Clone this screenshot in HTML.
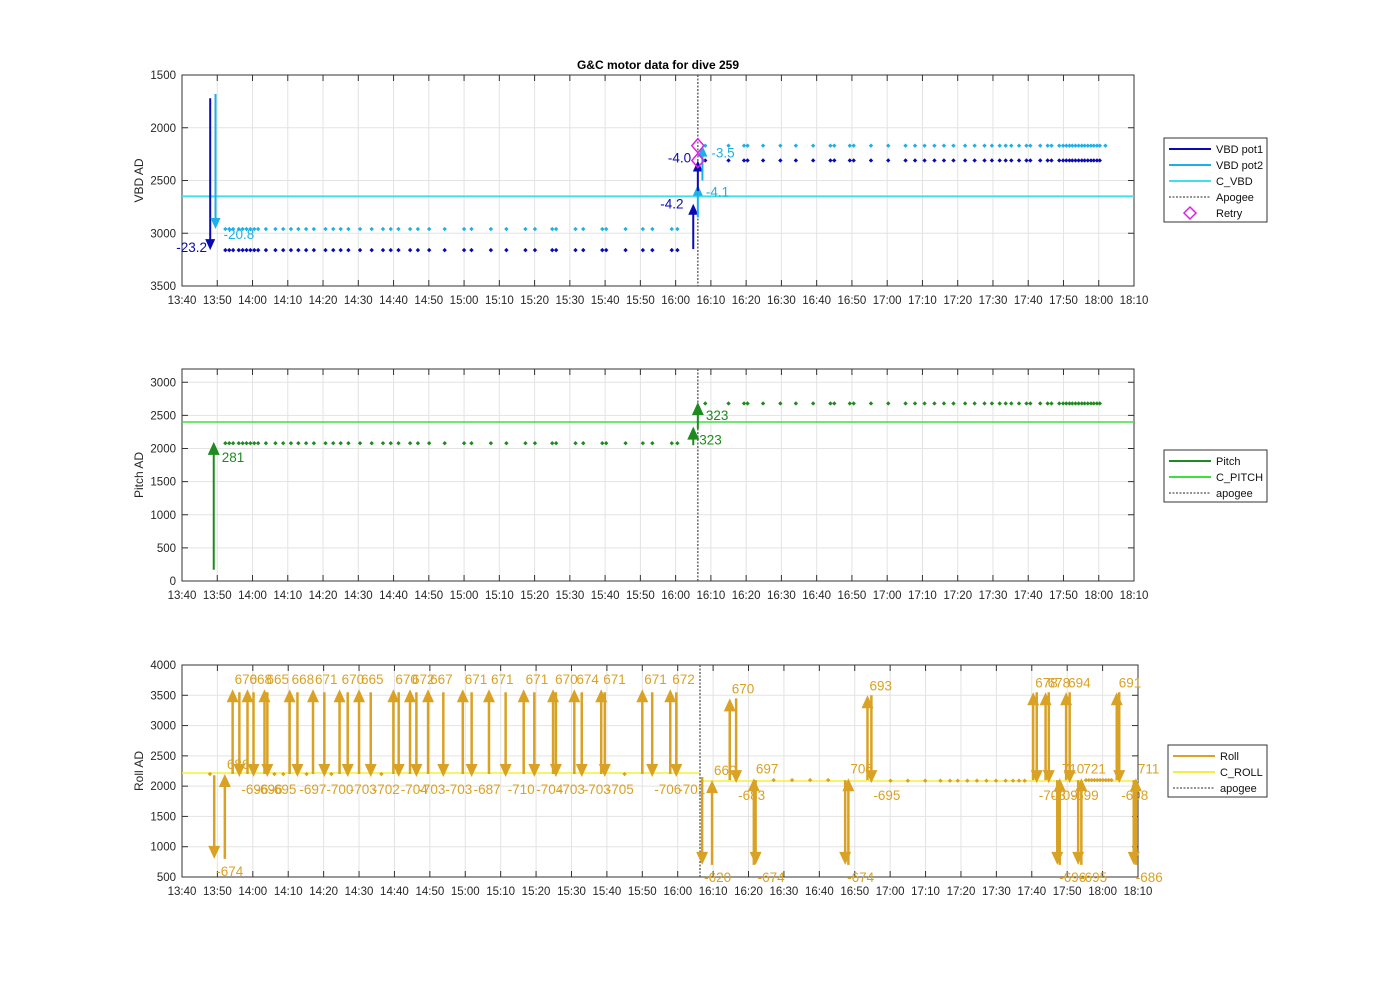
<!DOCTYPE html>
<html><head><meta charset="utf-8"><style>
body{margin:0;background:#fff}
svg{font-family:"Liberation Sans",sans-serif}
</style></head><body>
<svg id="c" width="1400" height="986" viewBox="0 0 1400 986" xmlns="http://www.w3.org/2000/svg">
<rect width="1400" height="986" fill="#fff"/>
<text x="658" y="69" text-anchor="middle" font-size="12" font-weight="bold">G&amp;C motor data for dive 259</text>
</svg>
<script>
// ---- data (minutes since 13:40) ----
const xTickLabels=["13:40","13:50","14:00","14:10","14:20","14:30","14:40","14:50","15:00","15:10","15:20","15:30","15:40","15:50","16:00","16:10","16:20","16:30","16:40","16:50","17:00","17:10","17:20","17:30","17:40","17:50","18:00","18:10"];
const apogeeT=146.3;
const tBefore=[12.3,13.4,14.5,16.1,17.2,18.3,19.4,20.5,21.6,23.8,26.5,28.7,30.9,33.0,35.2,37.4,40.7,42.9,45.0,47.2,50.5,53.8,57.0,59.2,61.4,64.7,66.9,70.1,74.5,80.0,82.1,87.6,92.0,97.4,100.1,105.0,106.1,111.6,113.8,119.2,120.3,125.8,130.7,133.4,138.9,140.5];
const tAfter=[148.4,155,159.4,160.4,164.8,169.7,174.1,179,183.9,185,189.4,190.5,195.4,200.3,205.2,207.9,210.6,213.4,216.1,218.8,222.1,224.8,227.6,229.7,231.9,233.6,235.2,237.4,239.5,240.6,243.4,245.5,246.6,248.8,249.9,250.8,251.7,252.5,253.4,254.3,255.2,256,256.9,257.8,258.6,259.5,260.3];
const pot1Before=3160, pot1After=2310, pot2Before=2960, pot2After=2170;
const cVbd=2650;
const vbdArrowT=[8.0,9.5,145.0,146.3,146.3,147.6];
const vbdArrowFrom=[1720,1680,3150,2850,2600,2500];
const vbdArrowTo=[3160,2960,2720,2540,2310,2170];
const vbdArrowLbl=["-23.2","-20.8","-4.2","-4.1","-4.0","-3.5"];
const vbdArrowSeries=[1,2,1,2,1,2];
const vbdLblDx=[-34,8,-33,8,-30,9];
const vbdLblDy=[2,10,5,12,2,12];
const retryT=[146.3,146.3], retryV=[2170,2310];
const pitchBefore=2080, pitchAfter=2680, cPitch=2400;
const pitchArrowT=[9.0,145.0,146.3];
const pitchArrowFrom=[170,2050,2300];
const pitchArrowTo=[2100,2330,2700];
const pitchArrowLbl=["281","323","323"];
const rollT=[9.1,12.1,14.3,16.2,18.5,20.2,23.3,24.1,30.4,32.6,37,40.2,44.5,46.8,50,53.3,59.7,61.2,64.4,66.2,69.5,73.8,79.3,81.8,86.7,91.4,96.5,99.5,104.8,105.6,110.8,112.9,118.4,119.4,130,132.8,137.9,139.6,146.9,149.7,154.7,156.5,161.5,162,187.3,188.2,193.6,194.7,240.4,241.4,243.9,244.8,247.2,247.9,249.7,250.7,253.1,254,264,264.7,268.8,269.4];
const rollFrom=[2180,800,2200,3550,2200,3550,2200,3550,2200,3550,2200,3550,2200,3550,2200,3550,2200,3550,2200,3550,2200,3550,2200,3550,2200,3550,2200,3550,2200,3550,2200,3550,2200,3550,2200,3550,2200,3550,2150,700,2100,3450,700,2100,2100,700,2100,3500,2100,3550,2100,3550,2100,700,2100,3550,2100,700,2100,3550,2100,700];
const rollTo=[800,2200,3600,2150,3600,2150,3600,2150,3600,2150,3600,2150,3600,2150,3600,2150,3600,2150,3600,2150,3600,2150,3600,2150,3600,2150,3600,2150,3600,2150,3600,2150,3600,2150,3600,2150,3600,2150,700,2100,3450,2050,2130,700,700,2130,3500,2050,3550,2050,3550,2050,700,2130,3550,2050,700,2130,3550,2050,700,2130];
const rollLbl=["-674","686","670","-696","668","-696","665","-695","668","-697","671","-700","670","-703","665","-702","670","-704","672","-703","667","-703","671","-687","671","-710","671","-704","670","-703","674","-703","671","-705","671","-706","672","-701","-620","660","670","-683","697","-674","-674","706","693","-695","678","-703","678","-709","-696","710","694","-699","-695","721","691","-698","-686","711"];
const rollDotT=[7.9,26.1,28.6,35.2,42.2,56.3,125,167.1,172.3,177.4,182.5,200.1,205,209.9,214.2,216.9,219.1,221.8,224.5,227.2,229.9,232.6,234.7,236.4,238,255.3,256.1,256.9,257.7,258.5,259.3,260.1,260.9,261.7,262.5];
const rollDotV=[2200,2200,2200,2200,2200,2200,2200,2100,2100,2100,2100,2090,2090,2090,2090,2090,2090,2090,2090,2090,2090,2090,2090,2090,2090,2100,2100,2100,2100,2100,2100,2100,2100,2100,2100];
const cRollBefore=2217, cRollAfter=2085;

const NS="http://www.w3.org/2000/svg", svg=document.getElementById('c');
function mk(tag,attrs,parent){const e=document.createElementNS(NS,tag);for(const k in attrs)e.setAttribute(k,attrs[k]);(parent||svg).appendChild(e);return e;}
const C={p1:"#0a0ab4",p2:"#1cb0e8",cv:"#3fe0e8",pi:"#1f8a1f",cp:"#3ee03e",ro:"#d9a224",cr:"#f2f03a",mg:"#e020e0"};

function panel(name,L,R,T,B,vTop,vBot,yticks,ylabel){
  const g=mk('g',{});
  
  
  const X=t=>L+(R-L)*t/270, Y=v=>T+(B-T)*(v-vTop)/(vBot-vTop);
  xTickLabels.forEach((s,i)=>{const x=X(i*10);
    mk('line',{x1:x,x2:x,y1:T,y2:B,stroke:"#e3e3e3","stroke-width":1},g);
    mk('line',{x1:x,x2:x,y1:B,y2:B-6,stroke:"#333"},g);mk('line',{x1:x,x2:x,y1:T,y2:T+6,stroke:"#333"},g);
    const tx=mk('text',{x:x,y:B+18,"text-anchor":"middle","font-size":11.5,fill:"#262626"},g);tx.textContent=s;
    
    });
  yticks.forEach(v=>{const y=Y(v);
    mk('line',{x1:L,x2:R,y1:y,y2:y,stroke:"#e3e3e3"},g);
    mk('line',{x1:L,x2:L+6,y1:y,y2:y,stroke:"#333"},g);mk('line',{x1:R,x2:R-6,y1:y,y2:y,stroke:"#333"},g);
    const tx=mk('text',{x:L-6,y:y+4,"text-anchor":"end","font-size":11.5,fill:"#262626"},g);tx.textContent=v;
    
    });
  mk('rect',{x:L,y:T,width:R-L,height:B-T,fill:"none",stroke:"#333","stroke-width":1},g);
  const yl=mk('text',{x:0,y:0,transform:`translate(143,${(T+B)/2}) rotate(-90)`,"text-anchor":"middle","font-size":12,fill:"#262626"},g);yl.textContent=ylabel;
  
  
  return {g,X,Y,T,B};
}
function dot(p,t,v,col){const d=mk('path',{d:`M${p.X(t)-2.2},${p.Y(v)}L${p.X(t)},${p.Y(v)-2.2}L${p.X(t)+2.2},${p.Y(v)}L${p.X(t)},${p.Y(v)+2.2}Z`,fill:col},p.g);
  
  }
function arrow(p,t,v0,v1,col,w,lbl,dx,dy,fs,hw){
  hw=hw||5;
  const x=p.X(t),y0=p.Y(v0),y1=p.Y(v1),dir=y1<y0?-1:1,h=hw*2+1;
  const a=mk('g',{},p.g);
  
  
  mk('line',{x1:x,x2:x,y1:y0,y2:y1-dir*h*0.6,stroke:col,"stroke-width":w},a);
  mk('path',{d:`M${x-hw},${y1-dir*h}L${x+hw},${y1-dir*h}L${x},${y1}Z`,fill:col},a);
  if(lbl){const tx=mk('text',{x:x+dx,y:y1+dy,"font-size":fs||13,fill:col},a);tx.textContent=lbl;}
}
function apogee(p){const x=p.X(apogeeT);const l=mk('line',{x1:x,x2:x,y1:p.T,y2:p.B,stroke:"#555","stroke-width":1.3,"stroke-dasharray":"2,1.5"},p.g);
  
  }
function hline(p,t0,t1,v,col,w,name){const l=mk('line',{x1:p.X(t0),x2:p.X(t1),y1:p.Y(v),y2:p.Y(v),stroke:col,"stroke-width":w},p.g);
  
  }
function legend(x,y,w,items,name){const g=mk('g',{});
  
  
  mk('rect',{x:x,y:y,width:w,height:items.length*16+4,fill:"#fff",stroke:"#333"},g);
  items.forEach((it,i)=>{const yy=y+11+i*16;
    if(it[2]==='d')mk('line',{x1:x+5,x2:x+47,y1:yy,y2:yy,stroke:it[1],"stroke-width":1.3,"stroke-dasharray":"2,1.5"},g);
    else if(it[2]==='m')mk('path',{d:`M${x+26},${yy-6}L${x+32},${yy}L${x+26},${yy+6}L${x+20},${yy}Z`,fill:"none",stroke:it[1],"stroke-width":1.5},g);
    else mk('line',{x1:x+5,x2:x+47,y1:yy,y2:yy,stroke:it[1],"stroke-width":2},g);
    const t=mk('text',{x:x+52,y:yy+4,"font-size":11,fill:"#111"},g);t.textContent=it[0];});}

// top VBD panel
const p1=panel('vbd',182,1134,75,286,1500,3500,[1500,2000,2500,3000,3500],'VBD AD');
hline(p1,0,270,cVbd,C.cv,2,'c-vbd-line');
tBefore.forEach(t=>dot(p1,t,pot1Before,C.p1));tAfter.forEach(t=>dot(p1,t,pot1After,C.p1));
tBefore.forEach(t=>dot(p1,t,pot2Before,C.p2));tAfter.concat([261.9]).forEach(t=>dot(p1,t,pot2After,C.p2));
apogee(p1);
vbdArrowT.forEach((t,i)=>arrow(p1,t,vbdArrowFrom[i],vbdArrowTo[i],vbdArrowSeries[i]==1?C.p1:C.p2,2,vbdArrowLbl[i],vbdLblDx[i],vbdLblDy[i],13.5));
retryT.forEach((t,i)=>{const x=p1.X(t),y=p1.Y(retryV[i]);const d=mk('path',{d:`M${x},${y-7}L${x+6},${y}L${x},${y+7}L${x-6},${y}Z`,fill:"none",stroke:C.mg,"stroke-width":1.5},p1.g);
  
  });
legend(1164,138,103,[["VBD pot1",C.p1],["VBD pot2",C.p2],["C_VBD",C.cv],["Apogee","#555",'d'],["Retry",C.mg,'m']],'vbd-legend');

// middle pitch panel
const p2=panel('pitch',182,1134,369,581,3200,0,[0,500,1000,1500,2000,2500,3000],'Pitch AD');
hline(p2,0,270,cPitch,C.cp,1.5,'c-pitch-line');
tBefore.forEach(t=>dot(p2,t,pitchBefore,C.pi));tAfter.forEach(t=>dot(p2,t,pitchAfter,C.pi));
apogee(p2);
pitchArrowT.forEach((t,i)=>arrow(p2,t,pitchArrowFrom[i],pitchArrowTo[i],C.pi,2,pitchArrowLbl[i],[8,6,8][i],[20,18,18][i],13.5,6));
legend(1164,450,103,[["Pitch",C.pi],["C_PITCH",C.cp],["apogee","#555",'d']],'pitch-legend');

// bottom roll panel
const p3=panel('roll',182,1138,665,877,4000,500,[500,1000,1500,2000,2500,3000,3500,4000],'Roll AD');
hline(p3,0,apogeeT,cRollBefore,C.cr,1.5,'c-roll-line-before');
hline(p3,apogeeT,270,cRollAfter,C.cr,1.5,'c-roll-line-after');
rollDotT.forEach((t,i)=>dot(p3,t,rollDotV[i],C.ro));
apogee(p3);
rollT.forEach((t,i)=>{const up=rollTo[i]>rollFrom[i];arrow(p3,t,rollFrom[i],rollTo[i],C.ro,2.5,rollLbl[i],2,up?-5:17,13.5,6);});
legend(1168,745,99,[["Roll",C.ro],["C_ROLL",C.cr],["apogee","#555",'d']],'roll-legend');
</script>
</body></html>
